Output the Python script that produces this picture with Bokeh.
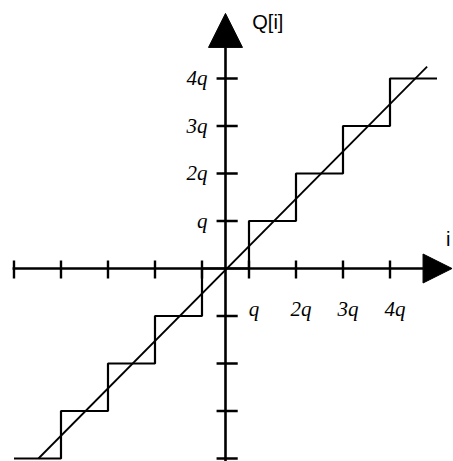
from bokeh.plotting import figure
from bokeh.models import Arrow, NormalHead, ColumnDataSource
from bokeh.core.properties import value
from bokeh.embed import file_html
from bokeh.resources import INLINE

# Quantizer characteristic, values in units of q
thresholds = [-4.5, -3.5, -2.5, -1.5, -0.5, 0.5, 1.5, 2.5, 3.5, 4.5]
levels = [-4, -3, -2, -1, 0, 1, 2, 3, 4, 4]
ideal_x = [-3.98, 4.29]
ideal_y = [-4.0, 4.25]

x_ticks = [-4.5, -3.5, -2.5, -1.5, -0.5, 0.5, 1.5, 2.5, 3.5]
x_tick_labels = ["", "", "", "", "", "q", "2q", "3q", "4q"]
y_ticks = [-4, -3, -2, -1, 1, 2, 3, 4]
y_tick_labels = ["", "", "", "", "q", "2q", "3q", "4q"]

x_axis_label = "i"
y_axis_label = "Q[i]"

p = figure(width=453, height=461, x_range=(-4.787, 4.851), y_range=(-4.063, 5.642),
           output_backend="svg", toolbar_location=None, min_border=0,
           x_axis_location=None, y_axis_location=None)
p.grid.visible = False
p.outline_line_color = None
p.background_fill_color = "white"
p.border_fill_color = "white"

# axes with arrow heads
p.add_layout(Arrow(end=NormalHead(size=29, fill_color="black", line_color="black"),
                   x_start=-4.53, y_start=0, x_end=4.82, y_end=0,
                   line_width=2.6, line_color="black"))
p.add_layout(Arrow(end=NormalHead(size=34, fill_color="black", line_color="black"),
                   x_start=0, y_start=-4.063, x_end=0, y_end=5.37,
                   line_width=2.6, line_color="black"))

# tick marks
xt = ColumnDataSource(dict(x=x_ticks, lab=x_tick_labels))
yt = ColumnDataSource(dict(y=y_ticks, lab=y_tick_labels))
p.segment(x0="x", y0=-0.21, x1="x", y1=0.17, source=xt, line_width=2.4, line_color="black")
p.segment(x0=-0.19, y0="y", x1=0.26, y1="y", source=yt, line_width=2.4, line_color="black")

# tick labels
p.text(x="x", y=0, text="lab", source=xt, x_offset=5, y_offset=40,
       text_align="center", text_baseline="middle",
       text_font=value("Liberation Serif"), text_font_style="italic",
       text_font_size="21px", text_color="black")
p.text(x=0, y="y", text="lab", source=yt, x_offset=-18, y_offset=0,
       text_align="right", text_baseline="middle",
       text_font=value("Liberation Serif"), text_font_style="italic",
       text_font_size="21px", text_color="black")

# axis names
p.text(x=[0.57], y=[5.18], text=[y_axis_label], text_align="left", text_baseline="middle",
       text_font=value("Liberation Sans"), text_font_size="20px", text_color="black")
p.text(x=[4.74], y=[0.63], text=[x_axis_label], text_align="center", text_baseline="middle",
       text_font=value("Liberation Sans"), text_font_size="20px", text_color="black")

# staircase and ideal line
p.step(thresholds, levels, mode="after", line_width=2.2, line_color="black")
p.line(ideal_x, ideal_y, line_width=1.8, line_color="black")

open("out.html", "w").write(file_html(p, INLINE))
